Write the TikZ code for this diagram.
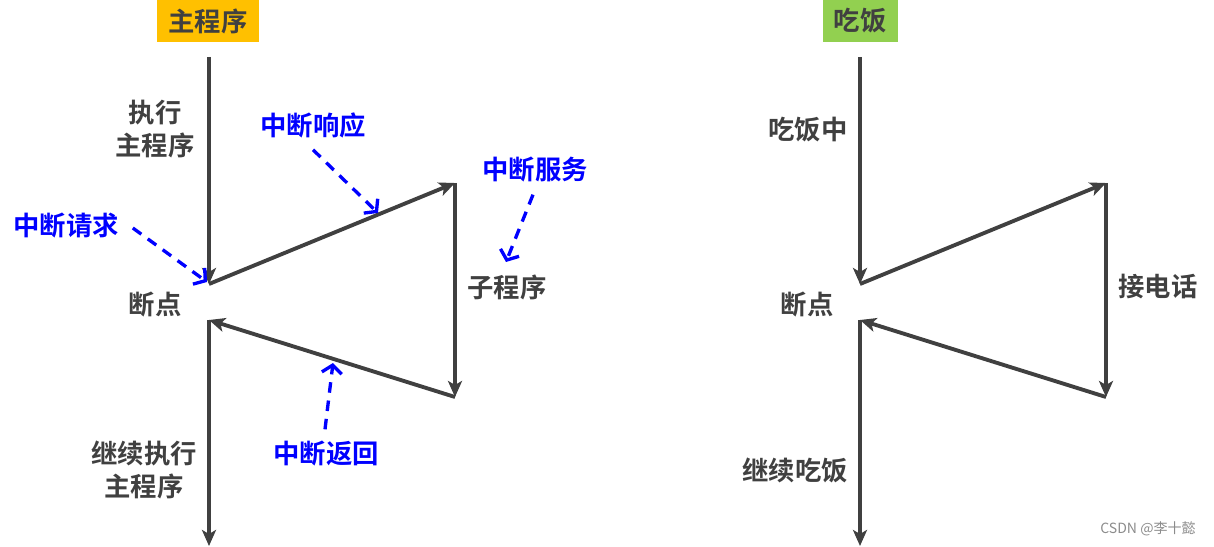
\documentclass[tikz,border=0pt]{standalone}
\usepackage{fontspec}
\setmainfont{Noto Sans CJK SC}[BoldFont={* Bold}]
\usepackage{xcolor}
\usetikzlibrary{arrows.meta, positioning, calc}

\definecolor{linegray}{HTML}{404040}
\definecolor{titleyellow}{HTML}{FFC000}
\definecolor{titlegreen}{HTML}{92D050}
\definecolor{markblue}{HTML}{0000FF}

\begin{document}
\begin{tikzpicture}[x=0.02cm, y=-0.02cm,
    title/.style={rectangle, minimum height=0.86cm, inner sep=0pt, text=linegray, font=\bfseries\fontsize{15}{18}\selectfont},
    label/.style={text=linegray, align=center, inner sep=1pt, font=\bfseries\fontsize{15}{19}\selectfont},
    note/.style={text=markblue, inner sep=1pt, font=\bfseries\fontsize{15}{18}\selectfont},
    flow/.style={-{Stealth[length=3.2mm, width=2.8mm, inset=0.8mm]}, line width=2.2pt, draw=linegray, fill=linegray},
    hint/.style={-{Straight Barb[length=1.6mm, width=4mm]}, line width=1.9pt, draw=markblue, dash pattern=on 6pt off 4.5pt}
]
    \useasboundingbox (0,0) rectangle (1214,547);

    % Left - main program
    \node[title, fill=titleyellow, minimum width=2.06cm] (mainT) at (208,21) {主程序};
    \coordinate (mTop) at (209,57);
    \coordinate (mBp1) at (209,284);
    \coordinate (mSubT) at (455,183);
    \coordinate (mSubB) at (455,397);
    \coordinate (mBp2) at (209,320);
    \coordinate (mEnd) at (209,546);

    \draw[flow] (mTop) -- (mBp1);
    \draw[flow] (mBp1) -- (mSubT);
    \draw[flow] (mSubT) -- (mSubB);
    \draw[flow] (mSubB) -- (mBp2);
    \draw[flow] (mBp2) -- (mEnd);

    \node[label] (mRun) at (155,129) {执行\\主程序};
    \node[label] (mBreak) at (155,305) {断点};
    \node[label] (mGoOn) at (144,470) {继续执行\\主程序};
    \node[label] (mSub) at (507,287) {子程序};

    % Blue notes
    \node[note] (req) at (66,226) {中断请求};
    \node[note] (resp) at (313,125) {中断响应};
    \node[note] (serv) at (535,170) {中断服务};
    \node[note] (ret) at (326,454) {中断返回};

    \coordinate (reqTo) at (207,282);
    \coordinate (respTo) at (378,213);
    \coordinate (servTo) at (506,262);
    \coordinate (retTo) at (333,363);

    \draw[hint] ($(req.east)+(12,2)$) -- (reqTo);
    \draw[hint] ($(resp.south)+(0,10)$) -- (respTo);
    \draw[hint] ($(serv.south)+(-2,10)$) -- (servTo);
    \draw[hint] ($(ret.north)+(-1,-10)$) -- (retTo);

    % Right - eating
    \node[title, fill=titlegreen, minimum width=1.5cm] (eatT) at (860,21) {吃饭};
    \coordinate (eTop) at (860,57);
    \coordinate (eBp1) at (860,284);
    \coordinate (eSubT) at (1106,183);
    \coordinate (eSubB) at (1106,397);
    \coordinate (eBp2) at (860,320);
    \coordinate (eEnd) at (860,546);

    \draw[flow] (eTop) -- (eBp1);
    \draw[flow] (eBp1) -- (eSubT);
    \draw[flow] (eSubT) -- (eSubB);
    \draw[flow] (eSubB) -- (eBp2);
    \draw[flow] (eBp2) -- (eEnd);

    \node[label] (eRun) at (808,130) {吃饭中};
    \node[label] (eBreak) at (807,305) {断点};
    \node[label] (ePhone) at (1158,287) {接电话};
    \node[label] (eGoOn) at (795,470) {继续吃饭};

    \node[text=black!45, inner sep=0pt, font=\fontsize{8}{10}\selectfont] (mark) at (1148,529) {CSDN @李十懿};
\end{tikzpicture}
\end{document}
